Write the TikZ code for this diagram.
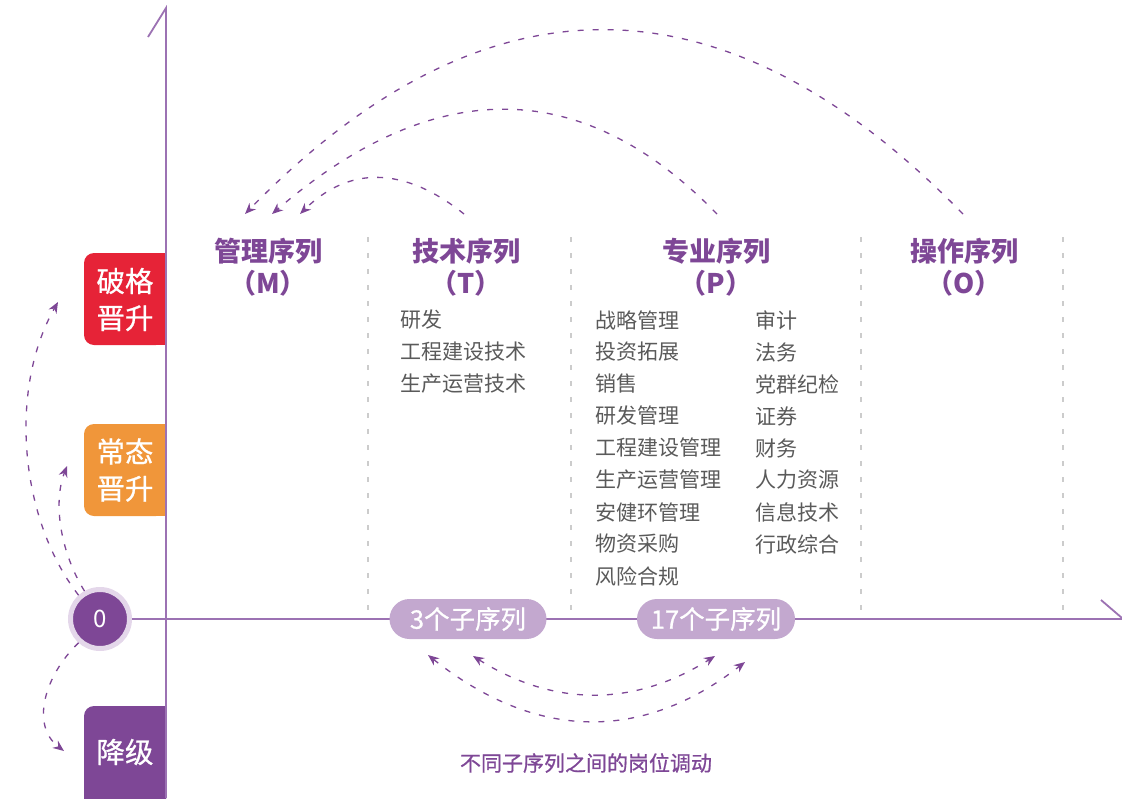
\documentclass[tikz,border=0pt]{standalone}
\usepackage{fontspec}
\setmainfont{Noto Sans CJK SC}
\newfontfamily\medfont{Noto Sans CJK SC}[FakeBold=0.8]
\usetikzlibrary{arrows.meta}

\definecolor{hrPurple}{HTML}{7E4796}
\definecolor{axisPurple}{HTML}{9C72B3}
\definecolor{haloPurple}{HTML}{E4D7EA}
\definecolor{pillPurple}{HTML}{C3A8CF}
\definecolor{tabRed}{HTML}{E62337}
\definecolor{tabOrange}{HTML}{F0963A}
\definecolor{listGray}{HTML}{5A5A5A}
\definecolor{colGray}{HTML}{CCCCCC}

\begin{document}
\begin{tikzpicture}[x=1pt, y=-1pt,
  axis/.style={draw=axisPurple, line width=1.8pt},
  colline/.style={draw=colGray, line width=1.4pt, dash pattern=on 5pt off 11pt},
  head/.style={font=\fontsize{27}{32}\selectfont\bfseries, text=hrPurple,
               align=center, inner sep=0pt},
  item/.style={font=\fontsize{21}{24}\selectfont, text=listGray, anchor=west,
               inner sep=0pt},
  tabtxt/.style={font=\fontsize{28.5}{37}\selectfont\medfont, text=white, align=center,
                 inner sep=0pt},
  pill/.style={fill=pillPurple, rounded corners=20pt, minimum height=40pt,
               inner sep=0pt, text=white, font=\fontsize{25.5}{28}\selectfont\medfont},
  mv/.style={draw=hrPurple, line width=1.3pt, dash pattern=on 6pt off 9pt,
             -{Stealth[length=11pt, width=9pt, inset=3.5pt]}},
  mvboth/.style={mv, {Stealth[length=11pt, width=9pt, inset=3.5pt]}-{Stealth[length=11pt, width=9pt, inset=3.5pt]}}
]
  \useasboundingbox (0,0) rectangle (1122,798);

  % ========== LEFT TABS ==========
  \fill[tabRed, rounded corners=10pt] (166,253) -- (84,253) -- (84,345) -- (166,345) -- cycle;
  \fill[tabRed] (130,253) rectangle (166,345);
  \node[tabtxt] (breakUp) at (125,299.5) {破格\\晋升};

  \fill[tabOrange, rounded corners=10pt] (166,424) -- (84,424) -- (84,516) -- (166,516) -- cycle;
  \fill[tabOrange] (130,424) rectangle (166,516);
  \node[tabtxt] (normalUp) at (125,470) {常态\\晋升};

  \fill[hrPurple, rounded corners=10pt] (166,706) -- (84,706) -- (84,810) -- (166,810) -- cycle;
  \fill[hrPurple] (130,706) rectangle (166,810);
  \node[tabtxt] (demote) at (125,752) {降级};

  % ========== AXES ==========
  \draw[axis] (166,798) -- (166,8) -- (148,37);
  \node[circle, fill=hrPurple, draw=haloPurple, line width=5pt, minimum size=59pt,
        inner sep=0pt, text=white, font=\fontsize{24}{24}\selectfont] (zero) at (100,619) {0};
  \draw[axis] (zero.east) -- (1122,619);
  \draw[axis] (1101,600) -- (1122,618);

  % ========== COLUMNS ==========
  \foreach \cx in {368, 571, 861, 1063}
    \draw[colline] (\cx,237) -- (\cx,612);

  \node[head] (mgmt) at (268,267) {管理序列\\（M）};
  \node[head] (tech) at (466,267) {技术序列\\（T）};
  \node[head] (prof) at (716,267) {专业序列\\（P）};
  \node[head] (ops)  at (964,267) {操作序列\\（O）};

  \foreach \txt [count=\i] in {研发, 工程建设技术, 生产运营技术}
    \node[item] (t\i) at (400,{288+32*\i}) {\txt};
  \foreach \txt [count=\i] in {战略管理, 投资拓展, 销售, 研发管理, 工程建设管理,
                               生产运营管理, 安健环管理, 物资采购, 风险合规}
    \node[item] (p\i) at (595,{288+32*\i}) {\txt};
  \foreach \txt [count=\i] in {审计, 法务, 党群纪检, 证券, 财务, 人力资源, 信息技术, 行政综合}
    \node[item] (q\i) at (755,{288+32*\i}) {\txt};

  % ========== SUB-SEQUENCE PILLS ==========
  \node[pill, minimum width=157pt] (techSub) at (468,619) {3个子序列};
  \node[pill, minimum width=158pt] (profSub) at (716,619) {17个子序列};

  % ======== ARROWS: columns -> management ========
  \coordinate (mA) at (245,214);
  \coordinate (mB) at (272,214);
  \coordinate (mC) at (300,214);
  \coordinate (opsTop)  at (963,214);
  \coordinate (profTop) at (717,214);
  \coordinate (techTop) at (464,214);
  \draw[mv] (opsTop) .. controls (724,-31) and (484,-31) .. (mA);
  \draw[mv] (profTop) .. controls (582,75) and (434,75) .. (mB);
  \draw[mv] (techTop) .. controls (404,166) and (349,166) .. (mC);

  % ======== ARROWS: between sub-sequences ========
  \coordinate (tsIn)  at (473,656);
  \coordinate (tsOut) at (428,655);
  \coordinate (psIn)  at (715,656);
  \coordinate (psOut) at (745,662);
  \draw[mvboth] (tsIn) .. controls (554,707) and (634,707) .. (psIn);
  \draw[mvboth] (tsOut) .. controls (535,740) and (641,743) .. (psOut);
  \node[font=\fontsize{21}{24}\selectfont\medfont, text=hrPurple] (moveNote) at (586,763)
    {不同子序列之间的岗位调动};

  % ======== ARROWS: zero -> tabs ========
  \coordinate (breakTip)  at (58,302);
  \coordinate (normalTip) at (67,466);
  \coordinate (demoteTip) at (64,751);
  \draw[mv] (zero.132) .. controls (20,520) and (8,390) .. (breakTip);
  \draw[mv] (zero.119) .. controls (62,555) and (52,505) .. (normalTip);
  \draw[mv] (zero.228) .. controls (45,675) and (30,725) .. (demoteTip);

\end{tikzpicture}
\end{document}
